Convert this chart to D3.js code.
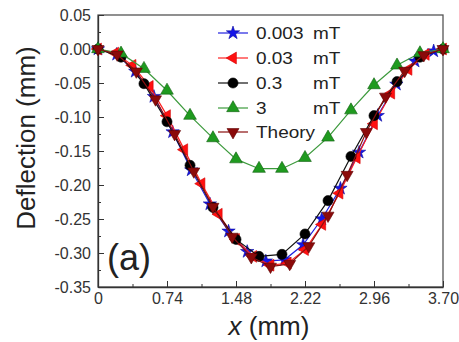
<!DOCTYPE html>
<html>
<head>
<meta charset="utf-8">
<script src="https://cdn.jsdelivr.net/npm/d3@7/dist/d3.min.js"></script>
<style>
html,body{margin:0;padding:0;background:#fff;}
svg{display:block;font-family:"Liberation Sans",Arial,sans-serif;}
</style>
</head>
<body>
<svg id="chart" width="459" height="342"></svg>
<script>
// ---------- data ----------
const xTicks = [0, 0.74, 1.48, 2.22, 2.96, 3.70];
const xTickLabels = ["0", "0.74", "1.48", "2.22", "2.96", "3.70"];
const xMinorTicks = [0.37, 1.11, 1.85, 2.59, 3.33];
const yTicks = [0.05, 0.00, -0.05, -0.10, -0.15, -0.20, -0.25, -0.30, -0.35];
const yTickLabels = ["0.05", "0.00", "-0.05", "-0.10", "-0.15", "-0.20", "-0.25", "-0.30", "-0.35"];
const yMinorTicks = [0.025, -0.025, -0.075, -0.125, -0.175, -0.225, -0.275, -0.325];

const seriesNames = ["0.003", "0.03", "0.3", "3", "Theory"];
const seriesUnits = ["mT", "mT", "mT", "mT", ""];

// 0.003 mT (blue stars)
const x0003 = [0, 0.2, 0.4, 0.6, 0.8, 1.0, 1.2, 1.4, 1.6, 1.8, 2.0, 2.2, 2.4, 2.6, 2.8, 3.0, 3.2, 3.4, 3.6];
const y0003 = [0, -0.008, -0.033, -0.070, -0.122, -0.178, -0.228, -0.268, -0.298, -0.312, -0.310, -0.288, -0.250, -0.205, -0.152, -0.098, -0.052, -0.018, -0.003];

// 0.03 mT (red left triangles)
const x003 = [0, 0.185, 0.370, 0.555, 0.740, 0.925, 1.110, 1.295, 1.480, 1.665, 1.850, 2.035, 2.220, 2.405, 2.590, 2.775, 2.960, 3.145, 3.330, 3.515, 3.700];
const y003 = [0, -0.006, -0.024, -0.055, -0.098, -0.148, -0.198, -0.243, -0.280, -0.305, -0.318, -0.315, -0.295, -0.258, -0.212, -0.160, -0.110, -0.065, -0.030, -0.008, 0];

// 0.3 mT (black circles)
const x03 = [0, 0.247, 0.493, 0.740, 0.987, 1.233, 1.480, 1.727, 1.973, 2.220, 2.467, 2.713, 2.960, 3.207, 3.453, 3.700];
const y03 = [0, -0.012, -0.051, -0.107, -0.171, -0.233, -0.280, -0.305, -0.302, -0.272, -0.223, -0.158, -0.098, -0.048, -0.012, 0];

// 3 mT (green triangles)
const x3 = [0, 0.247, 0.493, 0.740, 0.987, 1.233, 1.480, 1.727, 1.973, 2.220, 2.467, 2.713, 2.960, 3.207, 3.453, 3.700];
const y3 = [0, -0.0065, -0.029, -0.061, -0.098, -0.131, -0.162, -0.176, -0.176, -0.160, -0.130, -0.090, -0.053, -0.024, -0.006, 0];

// Theory (dark red down triangles)
const xTh = [0, 0.206, 0.411, 0.617, 0.822, 1.028, 1.233, 1.439, 1.644, 1.850, 2.056, 2.261, 2.467, 2.672, 2.878, 3.083, 3.289, 3.494, 3.700];
const yTh = [0, -0.008, -0.033, -0.074, -0.125, -0.180, -0.232, -0.276, -0.306, -0.320, -0.316, -0.290, -0.245, -0.185, -0.122, -0.070, -0.032, -0.009, 0];

// ---------- chart ----------
const svg = d3.select("#chart");
const x = d3.scaleLinear().domain([0, 3.70]).range([98, 443]);
const y = d3.scaleLinear().domain([-0.35, 0.05]).range([287, 15]);

const series = [
  {xs: x0003, ys: y0003, line: "#2020e0", fill: "#1515e8", stroke: "#0a0aa0", sym: d3.symbolStar, size: 55, rot: 0},
  {xs: x003, ys: y003, line: "#ff2020", fill: "#ff1010", stroke: "#d00000", sym: d3.symbolTriangle, size: 60, rot: -90},
  {xs: x03, ys: y03, line: "#111", fill: "#000", stroke: "#000", sym: d3.symbolCircle, size: 80, rot: 0},
  {xs: x3, ys: y3, line: "#3c9a3c", fill: "#1f9a1f", stroke: "#106010", sym: d3.symbolTriangle, size: 70, rot: 0},
  {xs: xTh, ys: yTh, line: "#8a1010", fill: "#8b0a0a", stroke: "#600000", sym: d3.symbolTriangle, size: 62, rot: 180}
];

// frame
svg.append("rect").attr("x", x(0)).attr("y", y(0.05))
  .attr("width", x(3.70) - x(0)).attr("height", y(-0.35) - y(0.05))
  .attr("fill", "none").attr("stroke", "#555").attr("stroke-width", 1.3);

// x axis (inward ticks)
const xAxis = d3.axisBottom(x).tickValues(xTicks).tickSizeInner(-6).tickSizeOuter(0)
  .tickFormat((d, i) => xTickLabels[i]);
const gx = svg.append("g").attr("transform", `translate(0,${y(-0.35)})`).call(xAxis);
gx.select(".domain").attr("stroke", "#333").attr("stroke-width", 1.3);
gx.selectAll(".tick line").attr("stroke", "#333");
gx.selectAll(".tick text").attr("font-size", 16).attr("fill", "#333")
  .attr("font-family", "Liberation Sans, Arial, sans-serif").attr("y", 6);
const xAxisMinor = d3.axisBottom(x).tickValues(xMinorTicks).tickSizeInner(-3).tickSizeOuter(0).tickFormat("");
const gxm = svg.append("g").attr("transform", `translate(0,${y(-0.35)})`).call(xAxisMinor);
gxm.select(".domain").remove();
gxm.selectAll(".tick line").attr("stroke", "#333");

// y axis (inward ticks)
const yAxis = d3.axisLeft(y).tickValues(yTicks).tickSizeInner(-6).tickSizeOuter(0)
  .tickFormat((d, i) => yTickLabels[i]);
const gy = svg.append("g").attr("transform", `translate(${x(0)},0)`).call(yAxis);
gy.select(".domain").attr("stroke", "#333").attr("stroke-width", 1.3);
gy.selectAll(".tick line").attr("stroke", "#333");
gy.selectAll(".tick text").attr("font-size", 16).attr("fill", "#333")
  .attr("font-family", "Liberation Sans, Arial, sans-serif").attr("x", -7);
const yAxisMinor = d3.axisLeft(y).tickValues(yMinorTicks).tickSizeInner(-3).tickSizeOuter(0).tickFormat("");
const gym = svg.append("g").attr("transform", `translate(${x(0)},0)`).call(yAxisMinor);
gym.select(".domain").remove();
gym.selectAll(".tick line").attr("stroke", "#333");

// series
series.forEach(s => {
  const pts = s.xs.map((v, i) => [v, s.ys[i]]);
  svg.append("path").datum(pts)
    .attr("fill", "none").attr("stroke", s.line).attr("stroke-width", 1.2)
    .attr("d", d3.line().x(d => x(d[0])).y(d => y(d[1])));
  svg.append("g").selectAll("path").data(pts).join("path")
    .attr("d", d3.symbol().type(s.sym).size(s.size))
    .attr("transform", d => `translate(${x(d[0])},${y(d[1])}) rotate(${s.rot})`)
    .attr("fill", s.fill).attr("stroke", s.stroke).attr("stroke-width", 0.6);
});

// legend
const legY = [33, 58, 83, 108, 132];
series.forEach((s, i) => {
  const g = svg.append("g");
  g.append("line").attr("x1", 218).attr("x2", 248).attr("y1", legY[i]).attr("y2", legY[i])
    .attr("stroke", s.line).attr("stroke-width", 1.2);
  g.append("path").attr("d", d3.symbol().type(s.sym).size(s.size))
    .attr("transform", `translate(233,${legY[i]}) rotate(${s.rot})`)
    .attr("fill", s.fill).attr("stroke", s.stroke).attr("stroke-width", 0.6);
  g.append("text").attr("transform", `translate(256,${legY[i] + 6}) scale(1.15,1)`)
    .attr("font-size", 16.5).attr("fill", "#222").text(seriesNames[i]);
  if (seriesUnits[i]) {
    g.append("text").attr("transform", `translate(313,${legY[i] + 6}) scale(1.15,1)`)
      .attr("font-size", 16.5).attr("fill", "#222").text(seriesUnits[i]);
  }
});

// titles
svg.append("text").attr("transform", "translate(35,138) rotate(-90)")
  .attr("text-anchor", "middle").attr("font-size", 26).attr("fill", "#222")
  .text("Deflection (mm)");
const xt = svg.append("text").attr("transform", "translate(269,335)")
  .attr("text-anchor", "middle").attr("font-size", 26).attr("fill", "#222");
xt.append("tspan").attr("font-style", "italic").text("x");
xt.append("tspan").text(" (mm)");

svg.append("text").attr("x", 107).attr("y", 270).attr("font-size", 36).attr("fill", "#222").text("(a)");
</script>
</body>
</html>
